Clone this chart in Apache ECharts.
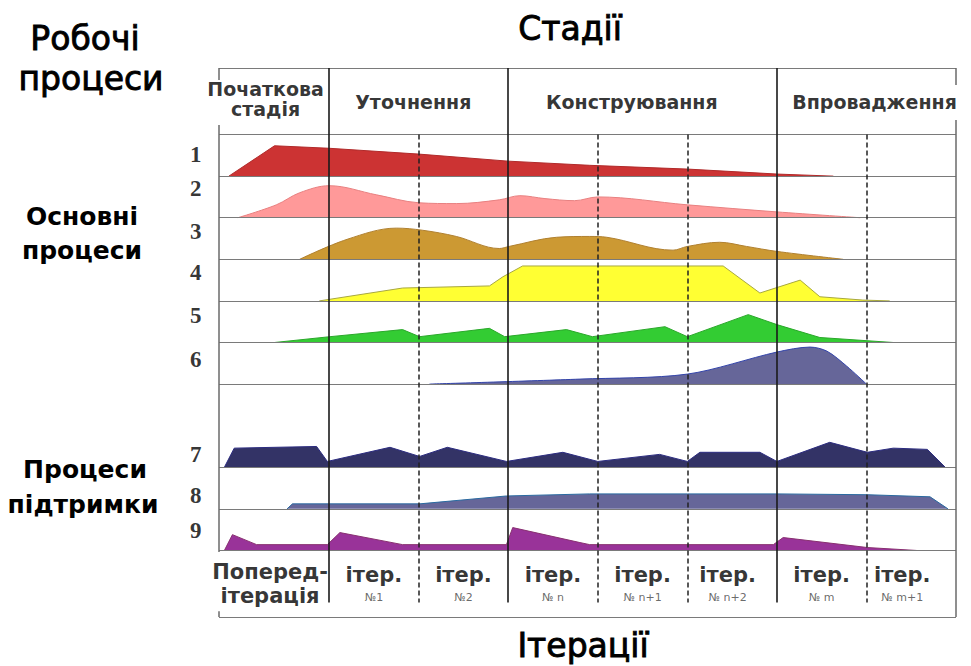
<!DOCTYPE html>
<html><head><meta charset="utf-8">
<script src="https://cdn.jsdelivr.net/npm/echarts@6/dist/echarts.min.js"></script>
<style>html,body{margin:0;padding:0;background:#fff}#c{width:971px;height:666px}</style>
</head><body><div id="c"></div>
<script>
// ---- data (x: iteration units, 0 = start of iteration №1; h: height in row units) ----
const stages = ['Початкова\nстадія', 'Уточнення', 'Конструювання', 'Впровадження'];
const stageLabelX = [-0.71, 0.94, 3.38, 6.09];
const iterTitles = ['Поперед-\nітерація', 'ітер.', 'ітер.', 'ітер.', 'ітер.', 'ітер.', 'ітер.', 'ітер.'];
const iterNumbers = ['', '№1', '№2', '№ n', '№ n+1', '№ n+2', '№ m', '№ m+1'];
const iterCenters = [-0.66, 0.5, 1.5, 2.5, 3.5, 4.45, 5.5, 6.4];
const phaseBounds = [0, 2, 5];        // solid lines between stages
const iterBounds = [1, 3, 4, 6];      // dashed lines between iterations
const processNumbers = ['1', '2', '3', '4', '5', '6', '7', '8', '9'];
const processBaselines = [1, 2, 3, 4, 5, 6, 8, 9, 10];
const numberLabelY = [0.49, 1.29, 2.34, 3.31, 4.34, 5.42, 7.70, 8.69, 9.53];

const p1 = [[-1.12,0],[-0.61,0.73],[0,0.67],[1.0,0.53],[2.0,0.36],[2.91,0.26],[4.0,0.17],[5.0,0.05],[5.63,0]];
const p2 = [[-1.02,0],[-0.59,0.31],[-0.33,0.60],[0,0.77],[0.53,0.55],[1.0,0.36],[1.42,0.34],[1.90,0.43],[2.13,0.53],[2.41,0.46],[2.74,0.41],[3.0,0.50],[4.0,0.31],[5.0,0.14],[5.93,0]];
const p3 = [[-0.33,0],[0.2,0.48],[0.75,0.75],[1.04,0.70],[1.42,0.55],[1.9,0.26],[2.01,0.31],[2.54,0.53],[2.91,0.55],[3.1,0.53],[3.84,0.22],[4.0,0.31],[4.36,0.41],[4.66,0.31],[5.0,0.19],[5.74,0]];
const p4 = [[-0.11,0],[0.82,0.31],[1.79,0.36],[1.94,0.58],[2.16,0.84],[4.40,0.84],[4.81,0.19],[5.26,0.50],[5.48,0.10],[5.96,0.02],[6.26,0]];
const p5 = [[-0.61,0],[0.01,0.14],[0.82,0.31],[1.01,0.14],[1.79,0.34],[1.96,0.14],[2.65,0.31],[2.94,0.14],[3.75,0.38],[4.0,0.14],[4.68,0.67],[5.0,0.43],[5.48,0.12],[6.30,0]];
const p6 = [[1.12,0],[2.8,0.12],[4.0,0.24],[5.0,0.77],[5.37,0.89],[5.56,0.79],[5.78,0.43],[6.0,0]];
const p7 = [[-1.17,0],[-1.06,0.46],[-0.14,0.50],[-0.02,0.14],[0.68,0.48],[1.01,0.26],[1.32,0.48],[1.98,0.14],[2.61,0.36],[3.0,0.14],[3.69,0.31],[4.0,0.14],[4.14,0.36],[4.81,0.36],[5.0,0.14],[5.59,0.60],[6.01,0.36],[6.30,0.46],[6.68,0.43],[6.88,0]];
const p8 = [[-0.47,0],[-0.41,0.12],[1.01,0.12],[1.98,0.31],[2.91,0.36],[4.0,0.36],[5.0,0.36],[6.01,0.34],[6.71,0.29],[6.91,0]];
const p9 = [[-1.17,0],[-1.08,0.38],[-0.81,0.14],[-0.02,0.14],[0.12,0.43],[0.82,0.14],[1.98,0.14],[2.05,0.55],[2.80,0.19],[2.91,0.14],[4.96,0.14],[5.07,0.31],[6.01,0.07],[6.56,0]];
const processData = [p1, p2, p3, p4, p5, p6, p7, p8, p9];

// ---- styles ----
const fills = ['#cc3333', '#ff9999', '#cc9933', '#ffff33', '#33cc33', '#666699', '#333366', '#666699', '#993399'];
const edges = ['#b02a2a', '#e88080', '#b08030', '#a8a840', '#2aa82a', '#3344aa', '#2c2c80', '#2a6aa0', '#883070'];
const smoothness = [0, 0.35, 0.35, 0, 0, 0.3, 0, 0, 0];
const XMIN = -1.23, XMAX = 7, YMIN = -1.6, YMAX = 11.6;

const chart = echarts.init(document.getElementById('c'), null, { renderer: 'svg' });

const lineData = [];
const gray = { color: '#7a7a7a', width: 1, type: 'solid' };
[YMIN, 0].concat(processBaselines, [YMAX]).forEach(y => {
  lineData.push([{ coord: [XMIN, y], lineStyle: gray }, { coord: [XMAX, y] }]);
});
const border = { color: '#6a6a6a', width: 1.5, type: 'solid' };
[[YMIN, -1.31], [-0.23, 10.04], [11.46, YMAX]].forEach(s =>
  lineData.push([{ coord: [XMIN, s[0]], lineStyle: border }, { coord: [XMIN, s[1]] }]));
[[YMIN, -1.19], [-0.35, YMAX]].forEach(s =>
  lineData.push([{ coord: [XMAX, s[0]], lineStyle: border }, { coord: [XMAX, s[1]] }]));
phaseBounds.forEach(x => lineData.push([{ coord: [x, YMIN], lineStyle: { color: '#1a1a1a', width: 1.6, type: 'solid' } }, { coord: [x, 11.25] }]));
iterBounds.forEach(x => lineData.push([{ coord: [x, 0], lineStyle: { color: '#222', width: 1.5, type: [5, 3] } }, { coord: [x, 11.25] }]));

const series = [{
  type: 'line', data: [], silent: true, z: 1,
  markLine: { silent: true, symbol: ['none', 'none'], label: { show: false }, animation: false, data: lineData }
}];

processData.forEach((pts, i) => {
  const base = processBaselines[i];
  series.push({
    type: 'line', name: processNumbers[i], z: 3,
    data: pts.map(p => [p[0], base - p[1]]),
    symbol: 'none', smooth: smoothness[i],
    lineStyle: { color: edges[i], width: 1 },
    areaStyle: { color: fills[i], opacity: 1, origin: base },
    animation: false
  });
});

const labelSeries = (data, label) => ({
  type: 'scatter', z: 5, symbolSize: 1, itemStyle: { color: 'rgba(0,0,0,0)' }, animation: false, silent: true,
  data: data, label: Object.assign({ show: true, formatter: p => p.name, color: '#000' }, label)
});
series.push(labelSeries(processNumbers.map((n, i) => ({ value: [XMIN, numberLabelY[i]], name: n })),
  { position: 'left', distance: 17, fontFamily: 'Liberation Serif', fontWeight: 'bold', fontSize: 23 }));
series.push(labelSeries(stages.map((s, i) => ({ value: [stageLabelX[i], i === 0 ? -0.86 : -0.78], name: s })),
  { position: 'inside', lineHeight: 20, fontFamily: 'DejaVu Sans', fontWeight: 'bold', fontSize: 19 }));
series.push(labelSeries(iterTitles.map((s, i) => ({ value: [iterCenters[i], i === 0 ? 10.81 : 10.59], name: s })),
  { position: 'inside', lineHeight: 24, fontFamily: 'DejaVu Sans', fontWeight: 'bold', fontSize: 21 }));
series.push(labelSeries(iterNumbers.map((s, i) => ({ value: [iterCenters[i], 11.12], name: s })),
  { position: 'inside', fontFamily: 'DejaVu Sans', fontSize: 11, color: '#444' }));

const big = { fontFamily: 'DejaVu Sans', fontSize: 33, fill: '#000', stroke: '#000', lineWidth: 0.9, textAlign: 'center', textVerticalAlign: 'middle' };
const grp = { fontFamily: 'DejaVu Sans', fontWeight: 'bold', fontSize: 25, fill: '#000', textAlign: 'center', textVerticalAlign: 'middle' };
chart.setOption({
  animation: false,
  grid: { left: 219, right: 15, top: 68, bottom: 49 },
  xAxis: { type: 'value', min: XMIN, max: XMAX, show: false },
  yAxis: { type: 'value', min: YMIN, max: YMAX, inverse: true, show: false },
  graphic: [
    { type: 'text', x: 85, y: 38, style: Object.assign({ text: 'Робочі' }, big) },
    { type: 'text', x: 91, y: 78, style: Object.assign({ text: 'процеси' }, big) },
    { type: 'text', x: 570, y: 28, style: Object.assign({ text: 'Стадії' }, big) },
    { type: 'text', x: 583, y: 645, style: Object.assign({ text: 'Ітерації' }, big) },
    { type: 'text', x: 82, y: 216, style: Object.assign({ text: 'Основні' }, grp) },
    { type: 'text', x: 82, y: 250, style: Object.assign({ text: 'процеси' }, grp) },
    { type: 'text', x: 85, y: 469, style: Object.assign({ text: 'Процеси' }, grp) },
    { type: 'text', x: 83, y: 504, style: Object.assign({ text: 'підтримки' }, grp) }
  ],
  series: series
});
</script>
</body></html>
